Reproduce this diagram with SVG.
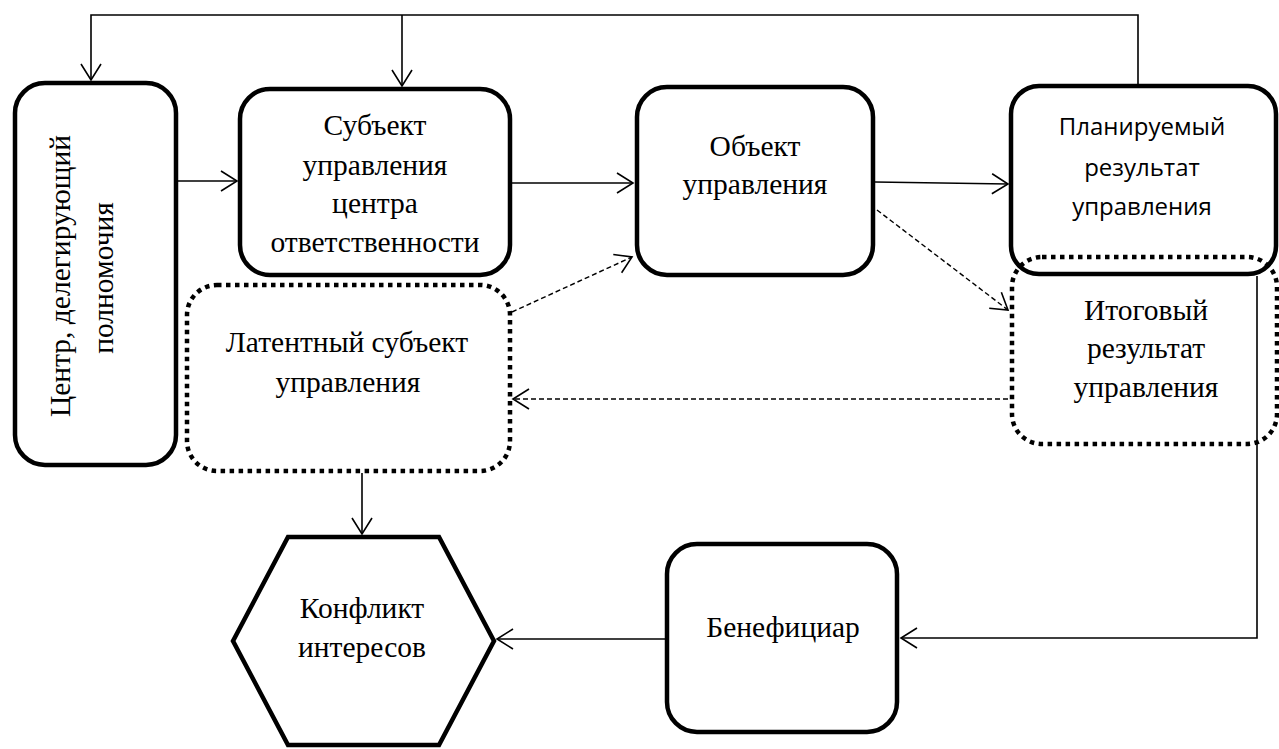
<svg xmlns="http://www.w3.org/2000/svg" width="1279" height="749" viewBox="0 0 1279 749">
  <defs>
    <marker id="open-arrow" markerUnits="userSpaceOnUse" markerWidth="40" markerHeight="40" refX="0" refY="0" viewBox="-20 -20 40 40" orient="auto" overflow="visible">
      <path d="M-16,-10 L0,0 L-16,10" fill="none" stroke="#000" stroke-width="1.6"/>
    </marker>
  </defs>
  <style>
    .box { fill: #fff; stroke: #000; stroke-width: 4.5; }
    .dotted { fill: none; stroke: #000; stroke-width: 4.5; stroke-dasharray: 4.5 4.5; }
    .serif { font-family: "Liberation Serif", "Times New Roman", serif; font-size: 29.5px; fill: #000; text-anchor: middle; }
    .sans { font-family: "Open Sans", "Liberation Sans", sans-serif; font-size: 24px; fill: #000; text-anchor: middle; }
    .link { fill: none; stroke: #000; stroke-width: 1.6; }
    .dash { fill: none; stroke: #000; stroke-width: 1.4; stroke-dasharray: 5 3; }
  </style>

  <rect width="1279" height="749" fill="#fff"/>

  <!-- delegating centre (vertical text) -->
  <g id="node-center">
    <rect class="box" x="15" y="83" width="161" height="382" rx="30"/>
    <text class="serif" transform="translate(70,276) rotate(-90)">Центр, делегирующий</text>
    <text class="serif" transform="translate(113,278) rotate(-90)">полномочия</text>
  </g>

  <g id="node-subject">
    <rect class="box" x="240" y="89" width="270" height="186" rx="30"/>
    <text class="serif" x="375" y="135">Субъект</text>
    <text class="serif" x="375" y="175">управления</text>
    <text class="serif" x="375" y="213">центра</text>
    <text class="serif" x="375" y="252">ответственности</text>
  </g>

  <g id="node-object">
    <rect class="box" x="637" y="87" width="236" height="188" rx="30"/>
    <text class="serif" x="755" y="156">Объект</text>
    <text class="serif" x="755" y="194">управления</text>
  </g>

  <g id="node-planned">
    <rect class="box" x="1011" y="86" width="265" height="188" rx="28"/>
    <text class="sans" x="1142" y="135">Планируемый</text>
    <text class="sans" x="1142" y="176">результат</text>
    <text class="sans" x="1142" y="215">управления</text>
  </g>

  <g id="node-latent">
    <rect class="dotted" x="187" y="285" width="323" height="186" rx="30"/>
    <text class="serif" x="347" y="352">Латентный субъект</text>
    <text class="serif" x="348" y="392">управления</text>
  </g>

  <g id="node-final">
    <rect class="dotted" x="1012" y="257" width="265" height="187" rx="30"/>
    <text class="serif" x="1146" y="320">Итоговый</text>
    <text class="serif" x="1146" y="358">результат</text>
    <text class="serif" x="1146" y="397">управления</text>
  </g>

  <g id="node-conflict">
    <polygon class="box" points="288,537 439,537 494,641 439,745 288,745 233,641"/>
    <text class="serif" x="362" y="618">Конфликт</text>
    <text class="serif" x="362" y="657">интересов</text>
  </g>

  <g id="node-beneficiary">
    <rect class="box" x="667" y="544" width="230" height="188" rx="30"/>
    <text class="serif" x="783" y="637">Бенефициар</text>
  </g>

  <g id="connectors">
    <!-- feedback from planned result to the top of the chain -->
    <path class="link" d="M1138,84 V15 H91 V80" marker-end="url(#open-arrow)"/>
    <path class="link" d="M402,15 V86" marker-end="url(#open-arrow)"/>
    <path class="link" d="M178,181 H237" marker-end="url(#open-arrow)"/>
    <path class="link" d="M512,183 H633" marker-end="url(#open-arrow)"/>
    <path class="link" d="M875,182 L1008,184" marker-end="url(#open-arrow)"/>
    <path class="dash" d="M877,210 L1008,310" marker-end="url(#open-arrow)"/>
    <path class="dash" d="M512,312 L632,257" marker-end="url(#open-arrow)"/>
    <path class="dash" d="M1008,399 H513" marker-end="url(#open-arrow)"/>
    <path class="link" d="M362,473 V534" marker-end="url(#open-arrow)"/>
    <path class="link" d="M1257,276 V638 H901" marker-end="url(#open-arrow)"/>
    <path class="link" d="M665,639 H497" marker-end="url(#open-arrow)"/>
  </g>
</svg>
